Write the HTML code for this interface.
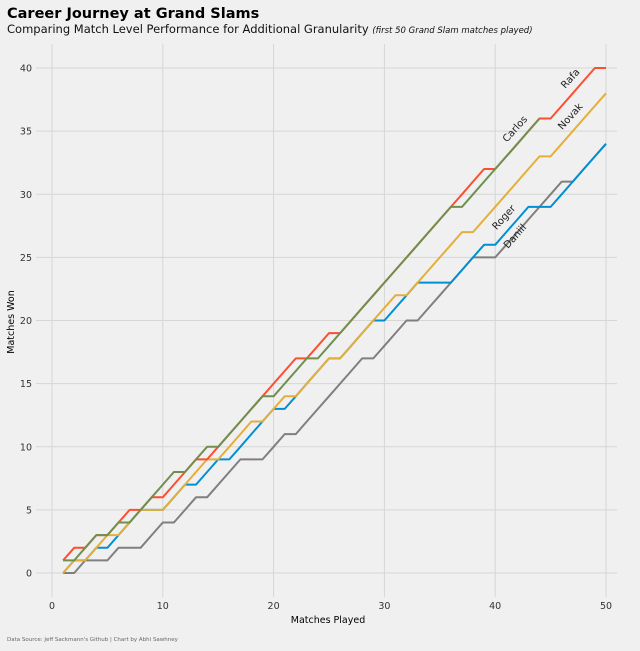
<!DOCTYPE html>
<html><head><meta charset="utf-8"><style>
html,body{margin:0;padding:0;background:#f0f0f0;}
svg{display:block;font-family:"DejaVu Sans","Liberation Sans",sans-serif;}
</style></head><body>
<svg id="chart" width="640" height="651" viewBox="0 0 640 651">
<rect width="640" height="651" fill="#f0f0f0"/>
<text x="7" y="18" font-size="14.5" font-weight="bold" fill="#000">Career Journey at Grand Slams</text>
<text x="7" y="33" font-size="11.5" fill="#111">Comparing Match Level Performance for Additional Granularity <tspan font-style="italic" font-size="8.5">(first 50 Grand Slam matches played)</tspan></text>
<g id="grid"></g>
<g id="series"></g>
<g id="labels"></g>
<text x="328" y="623" font-size="9.5" text-anchor="middle" fill="#000">Matches Played</text>
<text x="14" y="322" font-size="9.5" text-anchor="middle" fill="#000" transform="rotate(-90 14 322)">Matches Won</text>
<text x="7" y="641" font-size="5.5" fill="#666">Data Source: Jeff Sackmann's Github | Chart by Abhi Sawhney</text>
</svg>
<script>
const players = ["Rafa","Carlos","Novak","Roger","Daniil"];
const colors = ["#fc4f30","#6d904f","#e5ae38","#008fd5","#7f7f7f"];
const rafa = [1,2,2,3,3,4,5,5,6,6,7,8,9,9,10,11,12,13,14,15,16,17,17,18,19,19,20,21,22,23,24,25,26,27,28,29,30,31,32,32,33,34,35,36,36,37,38,39,40,40];
const carlos = [1,1,2,3,3,4,4,5,6,7,8,8,9,10,10,11,12,13,14,14,15,16,17,17,18,19,20,21,22,23,24,25,26,27,28,29,29,30,31,32,33,34,35,36];
const novak = [0,1,1,2,3,3,4,5,5,5,6,7,8,9,9,10,11,12,12,13,14,14,15,16,17,17,18,19,20,21,22,22,23,24,25,26,27,27,28,29,30,31,32,33,33,34,35,36,37,38];
const roger = [0,1,1,2,2,3,4,5,5,5,6,7,7,8,9,9,10,11,12,13,13,14,15,16,17,17,18,19,20,20,21,22,23,23,23,23,24,25,26,26,27,28,29,29,29,30,31,32,33,34];
const daniil = [0,0,1,1,1,2,2,2,3,4,4,5,6,6,7,8,9,9,9,10,11,11,12,13,14,15,16,17,17,18,19,20,20,21,22,23,24,25,25,25,26,27,28,29,30,31,31,32,33,34];
const xTicks = [0,10,20,30,40,50];
const yTicks = [0,5,10,15,20,25,30,35,40];
const labelPos = [[47,39],[42,35],[47,36],[41,28],[42,26.5]];

const NS="http://www.w3.org/2000/svg";
const X0=52, XS=11.08, Y0=573, YS=12.625;
const xs=v=>X0+v*XS, ys=v=>Y0-v*YS;
const grid=document.getElementById('grid'), ser=document.getElementById('series'), lab=document.getElementById('labels');
function mk(tag,attrs,parent){const e=document.createElementNS(NS,tag);for(const k in attrs)e.setAttribute(k,attrs[k]);parent.appendChild(e);return e;}
yTicks.forEach(t=>{
  const l=mk('line',{x1:36,x2:617,y1:ys(t),y2:ys(t),stroke:'#d6d6d6','stroke-width':1},grid);
  
  
  const tx=mk('text',{x:32,y:ys(t)+3.5,'font-size':9.5,'text-anchor':'end',fill:'#333'},grid);
  tx.textContent=t;
  
  
});
xTicks.forEach(t=>{
  const l=mk('line',{x1:xs(t),x2:xs(t),y1:44,y2:597,stroke:'#d6d6d6','stroke-width':1},grid);
  
  
  const tx=mk('text',{x:xs(t),y:609,'font-size':9.5,'text-anchor':'middle',fill:'#333'},grid);
  tx.textContent=t;
  
  
});
const data=[rafa,carlos,novak,roger,daniil];
const order=[4,3,2,0,1];
order.forEach(i=>{
  const pts=data[i].map((v,j)=>xs(j+1).toFixed(1)+','+ys(v).toFixed(1)).join(' ');
  const p=mk('polyline',{points:pts,fill:'none',stroke:colors[i],'stroke-width':2,'stroke-linejoin':'round'},ser);
  
  
});
players.forEach((n,i)=>{
  const x=xs(labelPos[i][0]), y=ys(labelPos[i][1]);
  const t=mk('text',{x:x,y:y,'font-size':10,'text-anchor':'middle',fill:'#222',transform:`rotate(-48 ${x} ${y})`},lab);
  t.textContent=n;
  
  
});
</script>
</body></html>
